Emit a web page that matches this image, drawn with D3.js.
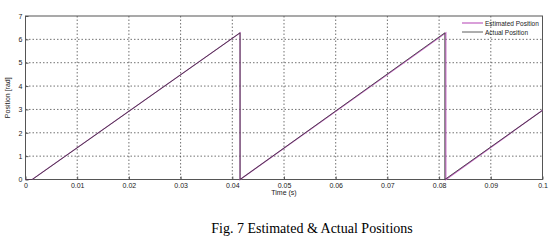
<!DOCTYPE html>
<html>
<head>
<meta charset="UTF-8">
<script src="https://d3js.org/d3.v7.min.js"></script>
<style>
    body { margin: 0; background: #fff; }
    .grid line { stroke: #333; stroke-dasharray: 1.5, 2; stroke-width: 0.7; }
</style>
</head>
<body>
<svg width="555" height="248"></svg>
<script>
    // data
    let actualTime = [0, 0.0013, 0.0415, 0.0415, 0.0811, 0.0811, 0.1];
    let actualPos = [0, 0, 6.28, 0, 6.28, 0, 2.96];
    let estTime = [0, 0.0013, 0.0415, 0.0415, 0.0813, 0.0813, 0.1];
    let estPos = [0, 0, 6.28, 0, 6.28, 0, 2.96];
    let xTicks = [0, 0.01, 0.02, 0.03, 0.04, 0.05, 0.06, 0.07, 0.08, 0.09, 0.1];
    let yTicks = [0, 1, 2, 3, 4, 5, 6, 7];
    let seriesNames = ["Estimated Position", "Actual Position"];
    let seriesColors = ["#c060c0", "#333"];

    let svg = d3.select("svg");
    let sans = "'Liberation Sans', Arial, sans-serif";
    let plotL = 25.5, plotR = 542.5, plotT = 16, plotB = 179.5;

    let x = d3.scaleLinear().domain([0, 0.1]).range([plotL, plotR]);
    let y = d3.scaleLinear().domain([0, 7]).range([plotB, plotT]);

    // grid
    let grid = svg.append("g").attr("class", "grid");
    grid.selectAll(".gx").data(xTicks.slice(1, -1)).enter().append("line")
        .attr("x1", d => x(d)).attr("x2", d => x(d))
        .attr("y1", plotT).attr("y2", plotB);
    grid.selectAll(".gy").data(yTicks.slice(1, -1)).enter().append("line")
        .attr("x1", plotL).attr("x2", plotR)
        .attr("y1", d => y(d)).attr("y2", d => y(d));

    // axes
    let xAxis = svg.append("g").attr("transform", "translate(0," + plotB + ")")
        .call(d3.axisBottom(x).tickValues(xTicks).tickFormat(d => d3.format("~g")(d)).tickSizeInner(-3).tickSizeOuter(0).tickPadding(4));
    let yAxis = svg.append("g").attr("transform", "translate(" + plotL + ",0)")
        .call(d3.axisLeft(y).tickValues(yTicks).tickFormat(d3.format("d")).tickSizeInner(-3).tickSizeOuter(0).tickPadding(3));
    [xAxis, yAxis].forEach(a => {
        a.select(".domain").remove();
        a.selectAll("line").attr("stroke", "#555");
        a.selectAll("text").style("font-family", sans).style("font-size", "7px").attr("fill", "#222");
    });

    // frame
    svg.append("rect").attr("x", plotL).attr("y", plotT)
        .attr("width", plotR - plotL).attr("height", plotB - plotT)
        .attr("fill", "none").attr("stroke", "#555").attr("stroke-width", 1);

    let line = d3.line().x(d => x(d[0])).y(d => y(d[1]));
    svg.append("path").datum(d3.zip(estTime, estPos))
        .attr("d", line).attr("fill", "none")
        .attr("stroke", seriesColors[0]).attr("stroke-width", 1.2);
    svg.append("path").datum(d3.zip(actualTime, actualPos))
        .attr("d", line).attr("fill", "none")
        .attr("stroke", seriesColors[1]).attr("stroke-width", 0.8);

    // legend
    let legend = svg.append("g");
    seriesNames.forEach((n, i) => {
        let ly = 23 + i * 9;
        legend.append("line").attr("x1", 462).attr("x2", 483)
            .attr("y1", ly).attr("y2", ly)
            .attr("stroke", seriesColors[i]).attr("stroke-width", i == 0 ? 1.2 : 0.8);
        legend.append("text").attr("x", 485).attr("y", ly + 2.5)
            .style("font-family", sans).style("font-size", "6.5px").attr("fill", "#222").text(n);
    });

    // axis labels
    svg.append("text").attr("x", (plotL + plotR) / 2).attr("y", 195)
        .attr("text-anchor", "middle").style("font-family", sans).style("font-size", "7px").attr("fill", "#222")
        .text("Time (s)");
    svg.append("text").attr("transform", "translate(10," + (plotT + plotB) / 2 + ") rotate(-90)")
        .attr("text-anchor", "middle").style("font-family", sans).style("font-size", "7px").attr("fill", "#222")
        .text("Position [rad]");

    // caption
    svg.append("text").attr("x", 312).attr("y", 233)
        .attr("text-anchor", "middle").style("font-family", "'Liberation Serif', 'Times New Roman', serif")
        .style("font-size", "14px").attr("fill", "#000")
        .text("Fig. 7 Estimated & Actual Positions");
</script>
</body>
</html>
